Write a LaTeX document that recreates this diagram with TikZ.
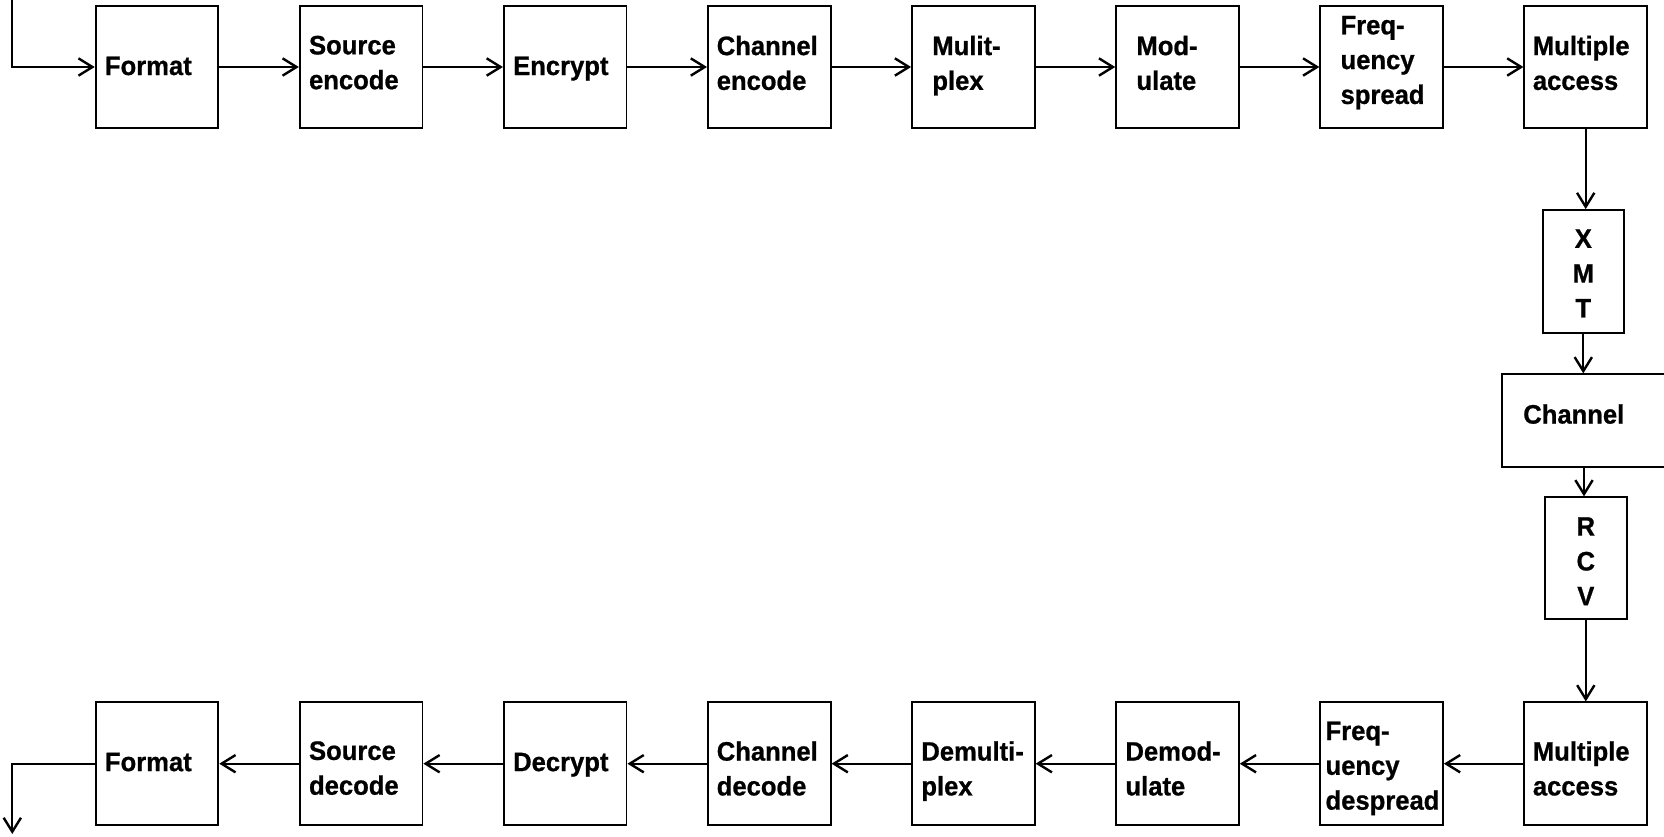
\documentclass[tikz,border=0pt]{standalone}
\usepackage{fontspec}
\setmainfont{Liberation Sans}[FakeStretch=0.96, FakeBold=0.8]
\usetikzlibrary{arrows.meta}
\begin{document}
\begin{tikzpicture}[x=0.75pt,y=-0.75pt,
  box/.style={draw, line width=1.4pt, minimum width=92pt, minimum height=92pt, inner sep=0pt},
  txt/.style={anchor=north west, inner sep=0pt, align=left,
    font=\fontsize{20pt}{26.1pt}\selectfont\bfseries},
  ctxt/.style={txt, anchor=north, align=center},
  arr/.style={line width=1.4pt, -{Straight Barb[length=10.5pt,width=13pt,line width=1.8pt]}}
]
\useasboundingbox (0,0) rectangle (1664,836);

% top row boxes
\node[box] (f1) at (157,67)    {};
\node[box] (s1) at (361.1,67)  {};
\node[box] (e1) at (565.2,67)  {};
\node[box] (c1) at (769.3,67)  {};
\node[box] (m1) at (973.4,67)  {};
\node[box] (d1) at (1177.5,67) {};
\node[box] (q1) at (1381.6,67) {};
\node[box] (a1) at (1585.7,67) {};
% top row labels
\node[txt] (f1t) at (104.7,56.4)  {Format};
\node[txt] (s1t) at (308.8,35.5)  {Source\\encode};
\node[txt] (e1t) at (512.9,56.4)  {Encrypt};
\node[txt] (c1t) at (716.5,35.5)  {Channel\\encode};
\node[txt] (m1t) at (932.1,35.5)  {Mulit-\\plex};
\node[txt] (d1t) at (1136.2,35.5) {Mod-\\ulate};
\node[txt] (q1t) at (1340.3,15.7) {Freq-\\uency\\spread};
\node[txt] (a1t) at (1532.6,35.5) {Multiple\\access};

% right column
\node[box, minimum width=61pt, minimum height=92.5pt] (xmt) at (1583.3,271.7) {};
\node[ctxt] (xmtt) at (1583.3,229.2) {X\\M\\T};
\node[box, minimum width=123.5pt, minimum height=69.3pt] (ch) at (1584,420.5) {};
\node[txt] (cht) at (1523,404) {Channel};
\node[box, minimum width=61.3pt, minimum height=91.5pt] (rcv) at (1585.8,558.3) {};
\node[ctxt] (rcvt) at (1585.8,517) {R\\C\\V};

% bottom row boxes
\node[box] (f2) at (157,763.7)    {};
\node[box] (s2) at (361.1,763.7)  {};
\node[box] (e2) at (565.2,763.7)  {};
\node[box] (c2) at (769.3,763.7)  {};
\node[box] (m2) at (973.4,763.7)  {};
\node[box] (d2) at (1177.5,763.7) {};
\node[box] (q2) at (1381.6,763.7) {};
\node[box] (a2) at (1585.7,763.7) {};
% bottom row labels
\node[txt] (f2t) at (104.7,752.5)  {Format};
\node[txt] (s2t) at (308.8,741)    {Source\\decode};
\node[txt] (e2t) at (512.9,752.5)  {Decrypt};
\node[txt] (c2t) at (716.5,741)    {Channel\\decode};
\node[txt] (m2t) at (921.1,741)    {Demulti-\\plex};
\node[txt] (d2t) at (1125.2,741)   {Demod-\\ulate};
\node[txt] (q2t) at (1325.3,721.4) {Freq-\\uency\\despread};
\node[txt] (a2t) at (1532.6,741)   {Multiple\\access};

% in / out
\coordinate (inTop) at (12.3,0);
\coordinate (outEnd) at (12.3,834);
\draw[arr] (inTop) |- (f1.west);
\draw[arr] (f2.west) -| (outEnd);

% top row connectors
\draw[arr] (f1) -- (s1);
\draw[arr] (s1) -- (e1);
\draw[arr] (e1) -- (c1);
\draw[arr] (c1) -- (m1);
\draw[arr] (m1) -- (d1);
\draw[arr] (d1) -- (q1);
\draw[arr] (q1) -- (a1);

% column connectors
\draw[arr] (a1.south) -- (a1.south |- xmt.north);
\draw[arr] (xmt.south) -- (xmt.south |- ch.north);
\draw[arr] (ch.south) -- (ch.south |- rcv.north);
\draw[arr] (rcv.south) -- (rcv.south |- a2.north);

% bottom row connectors
\draw[arr] (a2) -- (q2);
\draw[arr] (q2) -- (d2);
\draw[arr] (d2) -- (m2);
\draw[arr] (m2) -- (c2);
\draw[arr] (c2) -- (e2);
\draw[arr] (e2) -- (s2);
\draw[arr] (s2) -- (f2);
\end{tikzpicture}
\end{document}
